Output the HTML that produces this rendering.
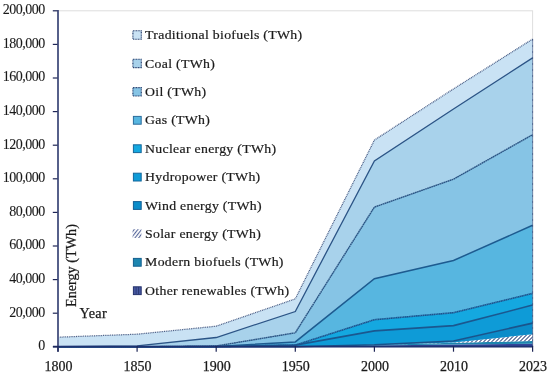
<!DOCTYPE html>
<html><head><meta charset="utf-8"><style>
html,body{margin:0;padding:0;background:#fff;}
svg{display:block;will-change:transform;}
text{font-family:"Liberation Serif",serif;fill:#1a1a1a;stroke:#1a1a1a;stroke-width:0.25px;}
.yl{font-size:14px;letter-spacing:-0.5px;stroke-width:0.1px;}
.xl{font-size:14px;}
.lg{font-size:13.1px;letter-spacing:0.27px;stroke-width:0.2px;}
.tt{font-size:14.2px;}
</style></head><body>
<svg width="550" height="375" viewBox="0 0 550 375">
<defs>
<pattern id="hatch" patternUnits="userSpaceOnUse" x="0" y="0" width="4" height="4">
<rect width="4" height="4" fill="#ffffff"/><rect x="0" y="0" width="1" height="1" fill="#7A88AC"/><rect x="1" y="0" width="1" height="1" fill="#7A88AC"/><rect x="0" y="1" width="1" height="1" fill="#7A88AC"/><rect x="3" y="1" width="1" height="1" fill="#7A88AC"/><rect x="2" y="2" width="1" height="1" fill="#7A88AC"/><rect x="3" y="2" width="1" height="1" fill="#7A88AC"/><rect x="1" y="3" width="1" height="1" fill="#7A88AC"/><rect x="2" y="3" width="1" height="1" fill="#7A88AC"/>
</pattern>
<pattern id="hatchL" patternUnits="userSpaceOnUse" width="2.9" height="2.9" patternTransform="rotate(38)">
<rect width="2.9" height="2.9" fill="#ffffff"/><rect width="1.1" height="2.9" fill="#56669A"/>
</pattern>
<pattern id="otherP" patternUnits="userSpaceOnUse" x="133" y="0" width="2.6" height="10">
<rect width="2.6" height="10" fill="#4A5CA6"/><rect width="1" height="10" fill="#28366F"/>
</pattern>
</defs>
<rect x="58" y="10.8" width="474.6" height="336" fill="none" stroke="#DEDEDE" stroke-width="1"/>
<polygon points="58.0,346.8 137.1,346.8 216.2,346.8 295.3,346.8 374.4,345.4 453.5,344.6 532.6,343.8 532.6,346.8 453.5,346.8 374.4,346.8 295.3,346.8 216.2,346.8 137.1,346.8 58.0,346.8" fill="#32449A"/><polygon points="58.0,346.8 137.1,346.8 216.2,346.8 295.3,346.8 374.4,345.0 453.5,342.8 532.6,341.0 532.6,343.8 453.5,344.6 374.4,345.4 295.3,346.8 216.2,346.8 137.1,346.8 58.0,346.8" fill="#1D86B0"/><polygon points="58.0,346.8 137.1,346.8 216.2,346.8 295.3,346.8 374.4,344.9 453.5,342.5 532.6,334.3 532.6,341.0 453.5,342.8 374.4,345.0 295.3,346.8 216.2,346.8 137.1,346.8 58.0,346.8" fill="url(#hatch)"/><polygon points="58.0,346.8 137.1,346.8 216.2,346.8 295.3,346.8 374.4,344.8 453.5,341.0 532.6,323.1 532.6,334.3 453.5,342.5 374.4,344.9 295.3,346.8 216.2,346.8 137.1,346.8 58.0,346.8" fill="#0B8CC9"/><polygon points="58.0,346.8 137.1,346.8 216.2,346.6 295.3,345.1 374.4,330.9 453.5,325.6 532.6,305.1 532.6,323.1 453.5,341.0 374.4,344.8 295.3,346.8 216.2,346.8 137.1,346.8 58.0,346.8" fill="#0E9BD7"/><polygon points="58.0,346.8 137.1,346.8 216.2,346.6 295.3,345.1 374.4,319.7 453.5,312.7 532.6,293.4 532.6,305.1 453.5,325.6 374.4,330.9 295.3,345.1 216.2,346.6 137.1,346.8 58.0,346.8" fill="#14A8E0"/><polygon points="58.0,346.8 137.1,346.8 216.2,346.4 295.3,341.9 374.4,278.7 453.5,260.5 532.6,225.3 532.6,293.4 453.5,312.7 374.4,319.7 295.3,345.1 216.2,346.6 137.1,346.8 58.0,346.8" fill="#57B6E0"/><polygon points="58.0,346.8 137.1,346.8 216.2,346.0 295.3,332.8 374.4,207.1 453.5,179.2 532.6,134.7 532.6,225.3 453.5,260.5 374.4,278.7 295.3,341.9 216.2,346.4 137.1,346.8 58.0,346.8" fill="#86C4E5"/><polygon points="58.0,346.6 137.1,345.8 216.2,337.5 295.3,311.5 374.4,160.9 453.5,109.0 532.6,57.9 532.6,134.7 453.5,179.2 374.4,207.1 295.3,332.8 216.2,346.0 137.1,346.8 58.0,346.8" fill="#A8D2EB"/><polygon points="58.0,337.2 137.1,334.2 216.2,326.2 295.3,298.9 374.4,140.1 453.5,88.9 532.6,39.1 532.6,57.9 453.5,109.0 374.4,160.9 295.3,311.5 216.2,337.5 137.1,345.8 58.0,346.6" fill="#C9E2F4"/>
<polyline points="58.0,346.8 137.1,346.8 216.2,346.8 295.3,346.8 374.4,344.8 453.5,341.0 532.6,323.1" fill="none" stroke="#1A548C" stroke-width="1.6"/><polyline points="58.0,346.8 137.1,346.8 216.2,346.6 295.3,345.1 374.4,330.9 453.5,325.6 532.6,305.1" fill="none" stroke="#1A5890" stroke-width="1.6"/><polyline points="58.0,346.8 137.1,346.8 216.2,346.6 295.3,345.1 374.4,319.7 453.5,312.7 532.6,293.4" fill="none" stroke="#1A5590" stroke-width="1.6" stroke-dasharray="1.5 0.3"/><polyline points="58.0,346.8 137.1,346.8 216.2,346.4 295.3,341.9 374.4,278.7 453.5,260.5 532.6,225.3" fill="none" stroke="#1D5B90" stroke-width="1.5"/><polyline points="58.0,346.8 137.1,346.8 216.2,346.0 295.3,332.8 374.4,207.1 453.5,179.2 532.6,134.7" fill="none" stroke="#2A5585" stroke-width="1.4" stroke-dasharray="1.8 0.35"/><polyline points="58.0,346.6 137.1,345.8 216.2,337.5 295.3,311.5 374.4,160.9 453.5,109.0 532.6,57.9" fill="none" stroke="#2B5486" stroke-width="1.3"/><polyline points="58.0,337.2 137.1,334.2 216.2,326.2 295.3,298.9 374.4,140.1 453.5,88.9 532.6,39.1" fill="none" stroke="#4A5E86" stroke-width="1.25" stroke-dasharray="1 0.8"/><line x1="532.6" y1="39.1" x2="532.6" y2="346.8" stroke="#33487A" stroke-width="1.1" stroke-dasharray="0.7 0.5"/>
<line x1="58" y1="10" x2="58" y2="351.7" stroke="#56608A" stroke-width="2"/>
<line x1="53" y1="346.6" x2="533" y2="346.6" stroke="#1E3272" stroke-width="1.8"/>
<g class="ax"><text x="44.8" y="350.1" text-anchor="end" class="yl">0</text><line x1="52.8" y1="346.8" x2="57.5" y2="346.8" stroke="#1E2656" stroke-width="1.2"/><text x="44.8" y="316.5" text-anchor="end" class="yl">20,000</text><line x1="52.8" y1="313.2" x2="57.5" y2="313.2" stroke="#1E2656" stroke-width="1.2"/><text x="44.8" y="282.9" text-anchor="end" class="yl">40,000</text><line x1="52.8" y1="279.6" x2="57.5" y2="279.6" stroke="#1E2656" stroke-width="1.2"/><text x="44.8" y="249.3" text-anchor="end" class="yl">60,000</text><line x1="52.8" y1="246.0" x2="57.5" y2="246.0" stroke="#1E2656" stroke-width="1.2"/><text x="44.8" y="215.7" text-anchor="end" class="yl">80,000</text><line x1="52.8" y1="212.4" x2="57.5" y2="212.4" stroke="#1E2656" stroke-width="1.2"/><text x="44.8" y="182.1" text-anchor="end" class="yl">100,000</text><line x1="52.8" y1="178.8" x2="57.5" y2="178.8" stroke="#1E2656" stroke-width="1.2"/><text x="44.8" y="148.5" text-anchor="end" class="yl">120,000</text><line x1="52.8" y1="145.2" x2="57.5" y2="145.2" stroke="#1E2656" stroke-width="1.2"/><text x="44.8" y="114.9" text-anchor="end" class="yl">140,000</text><line x1="52.8" y1="111.6" x2="57.5" y2="111.6" stroke="#1E2656" stroke-width="1.2"/><text x="44.8" y="81.3" text-anchor="end" class="yl">160,000</text><line x1="52.8" y1="78.0" x2="57.5" y2="78.0" stroke="#1E2656" stroke-width="1.2"/><text x="44.8" y="47.7" text-anchor="end" class="yl">180,000</text><line x1="52.8" y1="44.4" x2="57.5" y2="44.4" stroke="#1E2656" stroke-width="1.2"/><text x="44.8" y="14.1" text-anchor="end" class="yl">200,000</text><line x1="52.8" y1="10.8" x2="57.5" y2="10.8" stroke="#1E2656" stroke-width="1.2"/><text x="58.5" y="371.1" text-anchor="middle" class="xl">1800</text><line x1="58.0" y1="346" x2="58.0" y2="351.7" stroke="#1E2656" stroke-width="1.2"/><text x="137.6" y="371.1" text-anchor="middle" class="xl">1850</text><line x1="137.1" y1="346" x2="137.1" y2="351.7" stroke="#1E2656" stroke-width="1.2"/><text x="216.7" y="371.1" text-anchor="middle" class="xl">1900</text><line x1="216.2" y1="346" x2="216.2" y2="351.7" stroke="#1E2656" stroke-width="1.2"/><text x="295.8" y="371.1" text-anchor="middle" class="xl">1950</text><line x1="295.3" y1="346" x2="295.3" y2="351.7" stroke="#1E2656" stroke-width="1.2"/><text x="374.9" y="371.1" text-anchor="middle" class="xl">2000</text><line x1="374.4" y1="346" x2="374.4" y2="351.7" stroke="#1E2656" stroke-width="1.2"/><text x="454.0" y="371.1" text-anchor="middle" class="xl">2010</text><line x1="453.5" y1="346" x2="453.5" y2="351.7" stroke="#1E2656" stroke-width="1.2"/><text x="533.1" y="371.1" text-anchor="middle" class="xl">2023</text><line x1="532.6" y1="346" x2="532.6" y2="351.7" stroke="#1E2656" stroke-width="1.2"/></g>
<rect x="132.9" y="30.8" width="8.4" height="8.4" fill="#C9E2F4" stroke="#213C6C" stroke-width="1.1" stroke-dasharray="1 0.6"/><text transform="translate(145.1,39.2) scale(1.055,1)" class="lg">Traditional biofuels (TWh)</text><rect x="132.9" y="59.2" width="8.4" height="8.4" fill="#A8D2EB" stroke="#213C6C" stroke-width="1.1" stroke-dasharray="1 0.6"/><text transform="translate(145.1,67.6) scale(1.055,1)" class="lg">Coal (TWh)</text><rect x="132.9" y="87.6" width="8.4" height="8.4" fill="#86C4E5" stroke="#213C6C" stroke-width="1.1" stroke-dasharray="1 0.6"/><text transform="translate(145.1,96.0) scale(1.055,1)" class="lg">Oil (TWh)</text><rect x="133.4" y="116.4" width="7.8" height="7.8" fill="#57B6E0" stroke="#2A6C9C" stroke-width="1"/><text transform="translate(145.1,124.4) scale(1.055,1)" class="lg">Gas (TWh)</text><rect x="133.4" y="144.8" width="7.8" height="7.8" fill="#14A8E0" stroke="#16679A" stroke-width="1"/><text transform="translate(145.1,152.8) scale(1.055,1)" class="lg">Nuclear energy (TWh)</text><rect x="133.4" y="173.2" width="7.8" height="7.8" fill="#0E9BD7" stroke="#13679C" stroke-width="1"/><text transform="translate(145.1,181.2) scale(1.055,1)" class="lg">Hydropower (TWh)</text><rect x="133.4" y="201.6" width="7.8" height="7.8" fill="#0B8CC9" stroke="#135F95" stroke-width="1"/><text transform="translate(145.1,209.6) scale(1.055,1)" class="lg">Wind energy (TWh)</text><rect x="132.6" y="229.2" width="8.8" height="8.8" fill="url(#hatchL)"/><text transform="translate(145.1,238.0) scale(1.055,1)" class="lg">Solar energy (TWh)</text><rect x="133.4" y="258.4" width="7.8" height="7.8" fill="#1D86B0" stroke="#135F8F" stroke-width="1"/><text transform="translate(145.1,266.4) scale(1.055,1)" class="lg">Modern biofuels (TWh)</text><rect x="133.4" y="286.8" width="7.8" height="7.8" fill="url(#otherP)" stroke="#26336E" stroke-width="1"/><text transform="translate(145.1,294.8) scale(1.055,1)" class="lg">Other renewables (TWh)</text>
<text class="tt" x="0" y="0" transform="translate(75.8,307) rotate(-90)">Energy (TWh)</text>
<text class="tt" x="79.6" y="318.4" letter-spacing="0.3">Year</text>
</svg>
</body></html>
